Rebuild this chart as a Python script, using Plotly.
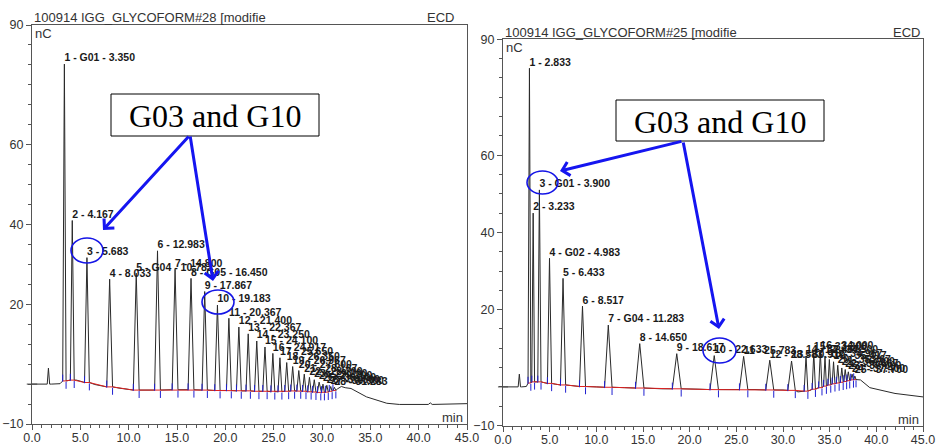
import plotly.graph_objects as go

W, H = 938, 447

# ---------------- data: left chromatogram (#28) ----------------
L_times = [1.700, 3.350, 4.167, 5.683, 8.033, 10.783, 12.983, 14.800, 16.450, 17.867,
           19.183, 20.367, 21.400, 22.367, 23.250, 24.100, 24.917, 25.650, 26.350,
           26.967, 27.600, 28.167, 28.700, 29.200, 29.700, 30.100, 30.500, 30.900, 31.283]
L_heights = [4.0, 80.2, 41.0, 31.7, 26.3, 27.8, 33.4, 28.8, 26.5, 23.2,
             19.8, 16.5, 14.3, 12.6, 10.8, 9.3, 7.7, 6.6, 5.4,
             4.4, 3.4, 2.5, 1.7, 1.1, 0.5, 0.0, -0.3, -0.6, -0.8]
L_widths = [0.25, 0.35, 0.4, 0.5, 0.6, 0.6, 0.6, 0.6, 0.6, 0.55,
            0.55, 0.5, 0.5, 0.45, 0.45, 0.45, 0.4, 0.4, 0.4,
            0.4, 0.4, 0.35, 0.35, 0.35, 0.35, 0.3, 0.3, 0.3, 0.3]
L_bases = [0.0, 0.8, 1.0, 0.4, -0.7, -1.5, -1.5, -1.4, -1.4, -1.5,
           -1.6, -1.6, -1.7, -1.7, -1.8, -1.8, -1.9, -1.9, -1.8,
           -1.7, -1.7, -1.8, -1.9, -2.0, -2.1, -2.1, -2.0, -1.8, -1.6]
L_labels = ["", "1 - G01 - 3.350", "2 - 4.167", "3 - 5.683", "4 - 8.033", "5 - G04 - 10.783",
            "6 - 12.983", "7 - 14.800", "8 - G05 - 16.450", "9 - 17.867", "10 - 19.183",
            "11 - 20.367", "12 - 21.400", "13 - 22.367", "14 - 23.250", "15 - 24.100",
            "16 - 24.917", "17 - 25.650", "18 - 26.350", "19 - 26.967", "20 - 27.600",
            "21 - 28.167", "22 - 28.700", "23 - 29.200", "24 - 29.700", "25 - 30.100",
            "26 - 30.500", "27 - 30.900", "28 - 31.283"]
L_base_t = [0.0, 1.4, 2.0, 2.9, 3.1, 4.6, 5.2, 6.5, 7.5, 9.0, 10.2, 12.0, 15.5, 18.5,
            21.0, 24.5, 27.0, 29.5, 31.6, 32.0, 32.4, 33.0, 34.6, 36.7, 38.0, 41.0,
            41.2, 41.4, 45.0]
L_base_y = [0.0, 0.0, 0.0, 0.1, 0.6, 1.0, 0.6, -0.1, -0.5, -1.0, -1.5, -1.5, -1.4, -1.5,
            -1.6, -1.8, -1.7, -2.0, -1.2, -0.6, -0.9, -1.1, -3.2, -4.8, -5.1, -5.1,
            -4.7, -5.1, -4.9]

# ---------------- data: right chromatogram (#25) ----------------
R_times = [1.750, 2.833, 3.233, 3.900, 4.983, 6.433, 8.517, 11.283, 14.650, 18.617,
           22.633, 25.783, 28.583, 30.917, 32.467, 33.300, 34.000, 34.500, 34.967,
           35.417, 35.867, 36.300, 36.667, 37.000, 37.400, 37.700]
R_heights = [3.3, 82.5, 45.0, 51.0, 33.3, 28.1, 20.9, 16.0, 11.2, 8.6,
             8.1, 7.9, 6.9, 6.7, 8.0, 8.9, 9.1, 8.0, 7.1,
             6.5, 5.6, 4.9, 4.5, 3.9, 3.3, 2.8]
R_widths = [0.25, 0.3, 0.3, 0.35, 0.45, 0.55, 0.65, 0.8, 0.9, 0.95,
            0.9, 0.9, 0.85, 0.8, 0.4, 0.35, 0.35, 0.3, 0.3,
            0.3, 0.3, 0.3, 0.3, 0.3, 0.3, 0.25]
R_bases = [0.0, 1.0, 1.3, 1.3, 0.9, 0.5, 0.1, -0.1, -0.3, -0.5,
           -0.7, -0.7, -0.8, -0.9, -1.1, -0.6, -0.2, 0.2, 0.5,
           0.8, 1.0, 1.2, 1.4, 1.6, 1.8, 1.9]
R_labels = ["", "1 - 2.833", "2 - 3.233", "3 - G01 - 3.900", "4 - G02 - 4.983", "5 - 6.433",
            "6 - 8.517", "7 - G04 - 11.283", "8 - 14.650", "9 - 18.617", "10 - 22.633",
            "11 - 25.783", "12 - 28.583", "13 - 30.917", "14 - 32.467", "15 - 33.300",
            "16 - 34.000", "17 - 34.500", "18 - 34.967", "19 - 35.417", "20 - 35.867",
            "21 - 36.300", "22 - 36.667", "23 - 37.000", "24 - 37.400", "25 - 37.700"]
R_base_t = [0.0, 1.5, 2.0, 2.5, 2.65, 4.4, 5.6, 7.5, 10.0, 13.0, 17.0, 21.0, 24.0,
            27.0, 30.0, 31.6, 32.0, 33.0, 38.3, 39.3, 42.0, 45.0]
R_base_y = [0.0, 0.0, 0.0, 0.1, 0.8, 1.1, 0.7, 0.3, 0.0, -0.2, -0.5, -0.6, -0.7,
            -0.7, -0.8, -1.3, -1.2, -0.8, 1.8, -0.2, -1.7, -2.6]

Y_TICKS = [-10, 20, 40, 60, 90]
TITLES = ["100914 IGG_GLYCOFORM#28 [modifie", "100914 IGG_GLYCOFORM#25 [modifie"]

SANS = "Liberation Sans, Arial, sans-serif"
SERIF = "Liberation Serif, Times New Roman, serif"


def trace_points(times, heights, widths, bases, bt, by):
    spans = [(t - w / 2, t + w / 2) for t, w in zip(times, widths)]
    pts = [(t, y) for t, y in zip(bt, by) if not any(a <= t <= b for a, b in spans)]
    for t, h, w, b in zip(times, heights, widths, bases):
        pts += [(t - w / 2, b), (t, h), (t + w / 2, b)]
    pts.sort()
    return [p[0] for p in pts], [p[1] for p in pts]


fig = go.Figure()


def add_panel(times, heights, widths, bases, labels, bt, by, xa, ya):
    idx = [i for i, l in enumerate(labels) if l]
    rx, ry, sx, sy, ex, ey = [], [], [], [], [], []
    for i in idx:
        t, w, b = times[i], widths[i], bases[i]
        rx += [t - w / 2, t + w / 2]
        ry += [b, b]
        sx.append(t - w / 2); sy.append(b + 0.7)
        ex.append(t + w / 2); ey.append(b - 1.1)
    x, y = trace_points(times, heights, widths, bases, bt, by)
    fig.add_trace(go.Scatter(x=x, y=y, mode="lines", xaxis=xa, yaxis=ya,
                             line=dict(color="#2a2a2a", width=1), hoverinfo="skip"))
    fig.add_trace(go.Scatter(x=rx, y=ry, mode="lines", xaxis=xa, yaxis=ya,
                             line=dict(color="#e02020", width=1), hoverinfo="skip"))
    fig.add_trace(go.Scatter(x=sx + ex, y=sy + ey, mode="markers", xaxis=xa, yaxis=ya,
                             marker=dict(symbol="line-ns-open", size=5, color="#2020d0",
                                         line=dict(color="#2020d0", width=1)),
                             hoverinfo="skip"))
    fig.add_trace(go.Scatter(x=[times[i] for i in idx], y=[heights[i] for i in idx],
                             text=["<b>%s</b>" % labels[i] for i in idx],
                             mode="text", textposition="top right", cliponaxis=False,
                             xaxis=xa, yaxis=ya,
                             textfont=dict(family=SANS, size=10.5, color="#1a1a1a"),
                             hoverinfo="skip"))


add_panel(L_times, L_heights, L_widths, L_bases, L_labels, L_base_t, L_base_y, "x", "y")
add_panel(R_times, R_heights, R_widths, R_bases, R_labels, R_base_t, R_base_y, "x2", "y2")

axis_common = dict(showgrid=False, zeroline=False, showline=True, mirror=True,
                   automargin=False,
                   linecolor="#555", linewidth=1, ticks="outside", tickcolor="#555",
                   tickfont=dict(family=SANS, size=12.5, color="#333"))

xdef = dict(range=[0, 45], tick0=0, dtick=5, tickformat=".1f", ticklen=5,
            ticklabelstandoff=-3,
            minor=dict(dtick=1, ticklen=3, ticks="outside", tickcolor="#555"), **axis_common)
ydef = dict(range=[-10, 90], tickmode="array", tickvals=Y_TICKS, ticklen=5,
            minor=dict(tickmode="linear", tick0=0, dtick=5, ticklen=3, ticks="outside",
                       tickcolor="#555"), **axis_common)

fig.update_layout(
    width=W, height=H, margin=dict(l=0, r=0, t=0, b=0, autoexpand=False),
    paper_bgcolor="white", plot_bgcolor="white", showlegend=False,
    xaxis=dict(domain=[32 / W, 467 / W], anchor="y", **xdef),
    yaxis=dict(domain=[1 - 424 / H, 1 - 25 / H], anchor="x", **ydef),
    xaxis2=dict(domain=[503 / W, 923 / W], anchor="y2", **xdef),
    yaxis2=dict(domain=[1 - 425.5 / H, 1 - 39.3 / H], anchor="x2", **ydef),
)


def P(xp, yp):
    return xp / W, 1 - yp / H


annots = []
shapes = []

for (tx, ty, txt, anc) in [
    (32, 17.5, TITLES[0], "left"), (456, 17.5, "ECD", "right"),
    (503, 32.5, TITLES[1], "left"), (922, 32.5, "ECD", "right"),
    (33, 33, "nC", "left"), (504, 47.5, "nC", "left"),
    (465, 417.5, "min", "right"), (921, 419, "min", "right"),
]:
    x, y = P(tx, ty)
    annots.append(dict(x=x, y=y, xref="paper", yref="paper", text=txt, showarrow=False,
                       xanchor=anc, yanchor="middle",
                       font=dict(family=SANS, size=13, color="#333")))

for xd, yr in [("x domain", "y"), ("x2 domain", "y2")]:
    shapes.append(dict(type="line", xref=xd, yref=yr, x0=-0.012, x1=0.012, y0=0, y1=0,
                       line=dict(color="#444", width=1)))

for (x0, y0, x1, y1) in [(111, 94, 319, 136), (616, 100, 824, 141)]:
    a0, b0 = P(x0, y0); a1, b1 = P(x1, y1)
    shapes.append(dict(type="rect", xref="paper", yref="paper", x0=a0, x1=a1, y0=b1, y1=b0,
                       line=dict(color="black", width=1), fillcolor="white"))
    cx, cy = P((x0 + x1) / 2, (y0 + y1) / 2 + 1)
    annots.append(dict(x=cx, y=cy, xref="paper", yref="paper", text="G03 and G10",
                       showarrow=False, xanchor="center", yanchor="middle",
                       font=dict(family=SERIF, size=32, color="black")))

for (x0, y0, x1, y1) in [(71, 238, 103, 263), (202, 290, 234, 314),
                         (527, 171, 558, 194), (703, 338, 736, 363)]:
    a0, b0 = P(x0, y0); a1, b1 = P(x1, y1)
    shapes.append(dict(type="circle", xref="paper", yref="paper", x0=a0, x1=a1, y0=b1, y1=b0,
                       line=dict(color="#1515e6", width=1.6)))

for (tx, ty, hx, hy) in [(190, 135, 103, 230), (190, 135, 213, 281),
                         (683, 141, 560, 171), (683, 141, 719, 329)]:
    x, y = P(hx, hy)
    annots.append(dict(x=x, y=y, xref="paper", yref="paper", text="", showarrow=True,
                       ax=tx - hx, ay=ty - hy, axref="pixel", ayref="pixel",
                       arrowhead=4, arrowsize=0.9, arrowwidth=3, arrowcolor="#1515f0",
                       standoff=0))

fig.update_layout(annotations=annots, shapes=shapes)
fig.write_html("out.html", config={"displayModeBar": False},
               post_script="document.body.style.margin='0';document.body.style.overflow='hidden';")
